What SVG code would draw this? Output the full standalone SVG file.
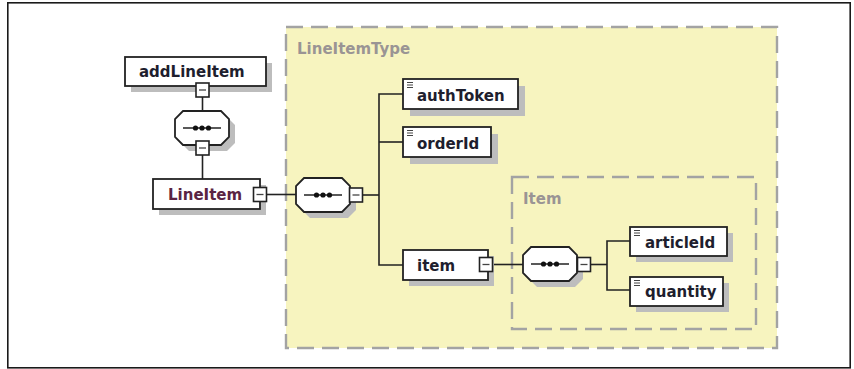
<svg xmlns="http://www.w3.org/2000/svg" xmlns:xlink="http://www.w3.org/1999/xlink" width="854" height="369" viewBox="0 0 854 369">
<style>
.frame{fill:#fff;stroke:#1a1a1a;stroke-width:1.6}
.grp{fill:#f7f4bf;stroke:#a3a3a3;stroke-width:2.4;stroke-dasharray:17 8}
.grplbl{font-family:"DejaVu Sans",sans-serif;font-weight:bold;font-size:15px;fill:#9a9494}
.box{fill:#fff;stroke:#222;stroke-width:1.8}
.shd{fill:#bdbdbd;stroke:none}
.lbl{font-family:"DejaVu Sans",sans-serif;font-weight:bold;font-size:15px;fill:#1e1e2e}
.lblr{font-family:"DejaVu Sans",sans-serif;font-weight:bold;font-size:15px;fill:#5a2443}
.wire{fill:none;stroke:#222;stroke-width:1.6}
.icon{stroke:#444;stroke-width:1}
</style>
<defs>
<g id="minus">
<rect x="-6.5" y="-7" width="13" height="14" fill="#fff" stroke="#222" stroke-width="1.6"/>
<line x1="-3.5" y1="0" x2="3.5" y2="0" stroke="#444" stroke-width="1.3"/>
</g>
<g id="seq">
<path d="M8,0 H46 L54,8 V26 L46,34 H8 L0,26 V8 Z" transform="translate(6,6)" class="shd"/>
<path d="M8,0 H46 L54,8 V26 L46,34 H8 L0,26 V8 Z" class="box"/>
<line x1="8" y1="17" x2="46" y2="17" stroke="#222" stroke-width="1.6"/>
<circle cx="20.5" cy="17" r="2.6" fill="#111"/>
<circle cx="27" cy="17" r="2.6" fill="#111"/>
<circle cx="33.5" cy="17" r="2.6" fill="#111"/>
</g>
<g id="eq">
<line x1="0" y1="0.5" x2="6" y2="0.5" class="icon"/>
<line x1="0" y1="3" x2="6" y2="3" class="icon"/>
<line x1="0" y1="5.5" x2="6" y2="5.5" class="icon"/>
</g>
</defs>

<rect x="7.8" y="2.8" width="842.4" height="365" class="frame"/>

<g id="LineItemType">
<rect x="286" y="27" width="491" height="321" class="grp"/>
<text x="297" y="54" class="grplbl">LineItemType</text>
</g>
<g id="ItemType">
<rect x="512" y="177" width="244" height="152" class="grp"/>
<text x="523" y="204" class="grplbl">Item</text>
</g>

<g id="connectors">
<line x1="202.5" y1="97" x2="202.5" y2="112" class="wire"/>
<line x1="202.5" y1="155" x2="202.5" y2="179" class="wire"/>
<line x1="267" y1="194.5" x2="296" y2="194.5" class="wire"/>
<line x1="363" y1="195" x2="379" y2="195" class="wire"/>
<path d="M403,94 H379 V265 H403" class="wire"/>
<line x1="379" y1="142" x2="403" y2="142" class="wire"/>
<line x1="493" y1="264.5" x2="523" y2="264.5" class="wire"/>
<line x1="591" y1="264.5" x2="607" y2="264.5" class="wire"/>
<path d="M630,241 H607 V290 H630" class="wire"/>
</g>

<g id="addLineItem">
<rect x="131" y="63" width="141" height="29" class="shd"/>
<rect x="125" y="57" width="141" height="29" class="box"/>
<text x="139" y="77" class="lbl">addLineItem</text>
<use xlink:href="#minus" x="202.5" y="90"/>
</g>

<g id="seq1">
<use xlink:href="#seq" x="175" y="111"/>
<use xlink:href="#minus" x="202.5" y="148"/>
</g>

<g id="LineItem">
<rect x="159" y="185" width="107" height="30" class="shd"/>
<rect x="153" y="179" width="107" height="30" class="box"/>
<text x="168" y="200" class="lblr">LineItem</text>
<use xlink:href="#minus" x="260" y="194.5"/>
</g>

<g id="seq2">
<use xlink:href="#seq" x="296" y="178"/>
<use xlink:href="#minus" x="356" y="195"/>
</g>

<g id="authToken">
<rect x="410" y="86" width="115" height="30" class="shd"/>
<rect x="403" y="79" width="115" height="30" class="box"/>
<use xlink:href="#eq" x="407" y="82"/>
<text x="417" y="101" class="lbl">authToken</text>
</g>

<g id="orderId">
<rect x="410" y="134" width="88" height="30" class="shd"/>
<rect x="403" y="127" width="88" height="30" class="box"/>
<use xlink:href="#eq" x="407" y="130"/>
<text x="417" y="149" class="lbl">orderId</text>
</g>

<g id="item">
<rect x="409" y="256" width="85" height="30" class="shd"/>
<rect x="403" y="250" width="85" height="30" class="box"/>
<text x="417" y="271" class="lbl">item</text>
<use xlink:href="#minus" x="486" y="264.5"/>
</g>

<g id="seq3">
<use xlink:href="#seq" x="523" y="247"/>
<use xlink:href="#minus" x="584" y="264.5"/>
</g>

<g id="articleId">
<rect x="636" y="233" width="97" height="29" class="shd"/>
<rect x="630" y="227" width="97" height="29" class="box"/>
<use xlink:href="#eq" x="634" y="230"/>
<text x="645" y="248" class="lbl">articleId</text>
</g>

<g id="quantity">
<rect x="636" y="283" width="93" height="29" class="shd"/>
<rect x="630" y="277" width="93" height="29" class="box"/>
<use xlink:href="#eq" x="634" y="280"/>
<text x="645" y="297" class="lbl">quantity</text>
</g>
</svg>
